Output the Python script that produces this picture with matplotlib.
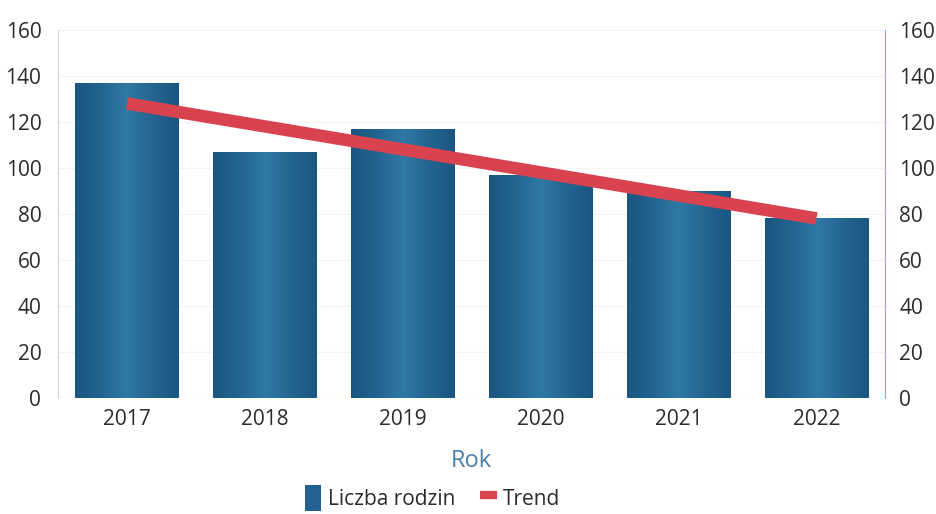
import numpy as np
import matplotlib.pyplot as plt
from matplotlib.colors import LinearSegmentedColormap
from matplotlib.patches import Patch
from matplotlib.lines import Line2D

# dane
lata = ["2017", "2018", "2019", "2020", "2021", "2022"]
liczba_rodzin = [137, 107, 117, 97, 90, 78]
trend = [128, 118, 108, 98, 88, 78]
ticki_y = [0, 20, 40, 60, 80, 100, 120, 140, 160]

plt.rcParams['font.family'] = ['Open Sans', 'DejaVu Sans']

fig = plt.figure(figsize=(9.36, 5.14), dpi=100)
ax = fig.add_axes([0.062, 0.226, 0.884, 0.716])

x = np.arange(len(lata))
slupki = ax.bar(x, liczba_rodzin, width=0.75, color='#1f5e8a', zorder=2)

# gradient w slupkach (troche jasniejszy srodek, ciemne brzegi)
cmap = LinearSegmentedColormap.from_list('cyl', ['#1b5682', '#22648f', '#3079a5', '#23658f', '#1b5682'])
grad = np.linspace(0, 1, 256).reshape(1, -1)
for b in slupki:
    x0, w, h = b.get_x(), b.get_width(), b.get_height()
    im = ax.imshow(grad, cmap=cmap, aspect='auto', extent=(x0, x0 + w, 0, h), zorder=2.5)
    im.set_clip_path(b)

ax.plot(x, trend, color='#d9434f', linewidth=9, solid_capstyle='butt', zorder=3)

ax.set_xlim(-0.5, len(lata) - 0.5)
ax.set_ylim(0, 160)
ax.set_yticks(ticki_y)
ax.set_xticks(x)
ax.set_xticklabels(lata)
ax.tick_params(axis='both', length=0, labelsize=15, colors='#2b2b2b', pad=8)
ax.tick_params(axis='y', pad=12)
ax.grid(axis='y', color='#f3f3f3', linewidth=0.8, zorder=0)
ax.set_axisbelow(True)

for s in ['top', 'bottom']:
    ax.spines[s].set_visible(False)
ax.spines['left'].set_color('#d0d8dc')
ax.spines['right'].set_color('#5fc2d8')

ax2 = ax.twinx()
ax2.set_ylim(0, 160)
ax2.set_yticks(ticki_y)
ax2.tick_params(axis='y', length=0, labelsize=15, colors='#2b2b2b', pad=10)
for s in ['top', 'bottom', 'left', 'right']:
    ax2.spines[s].set_visible(False)

ax.set_xlabel('Rok', fontsize=17, color='#4a80aa', labelpad=14)

uchwyty = [Patch(facecolor='#23628f', edgecolor='none'),
           Line2D([0], [0], color='#d9434f', linewidth=6, solid_capstyle='butt')]
fig.legend(uchwyty, ['Liczba rodzin', 'Trend'], loc='center', bbox_to_anchor=(0.462, 0.031),
           ncol=2, frameon=False, fontsize=15, handlelength=0.8, handleheight=1.6,
           handletextpad=0.3, columnspacing=1.2, labelcolor='#2b2b2b')

fig.savefig('out.png', dpi=100)
